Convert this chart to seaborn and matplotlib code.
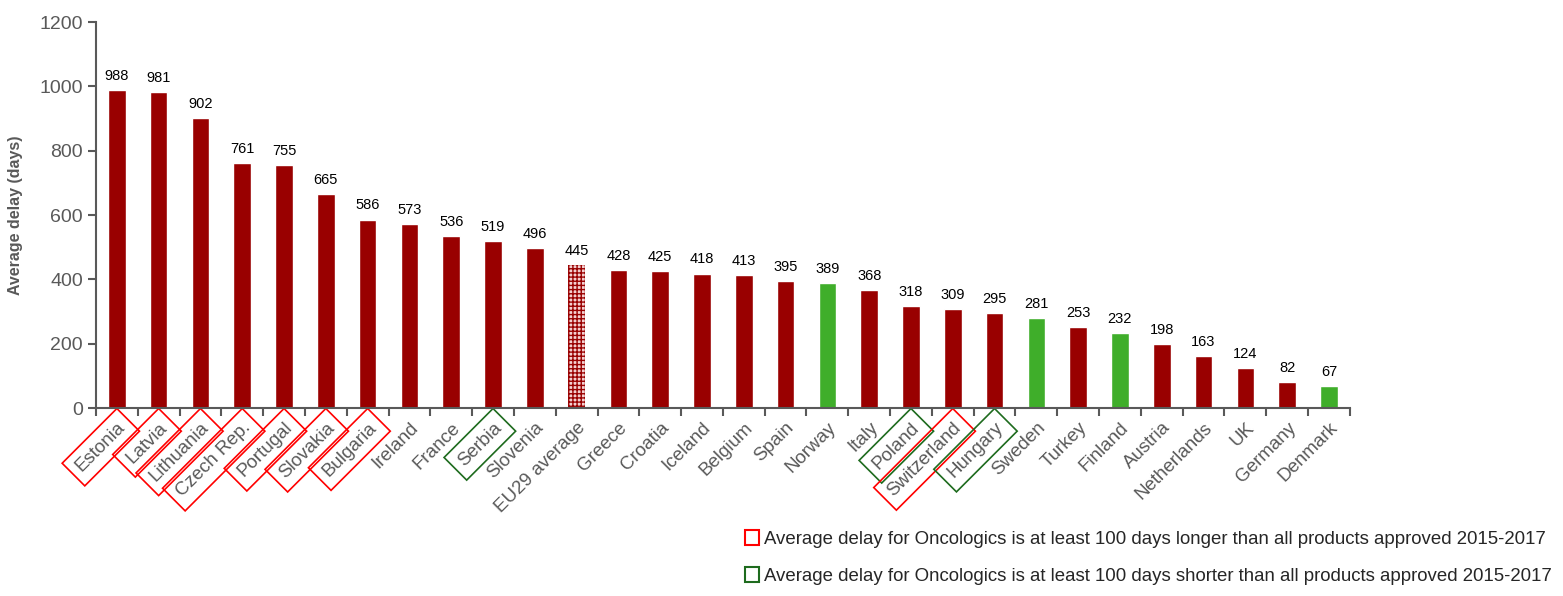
import matplotlib
matplotlib.use("Agg")
import matplotlib.pyplot as plt
import seaborn as sns
from matplotlib.patches import Patch

countries = ["Estonia", "Latvia", "Lithuania", "Czech Rep.", "Portugal", "Slovakia",
             "Bulgaria", "Ireland", "France", "Serbia", "Slovenia", "EU29 average",
             "Greece", "Croatia", "Iceland", "Belgium", "Spain", "Norway", "Italy",
             "Poland", "Switzerland", "Hungary", "Sweden", "Turkey", "Finland",
             "Austria", "Netherlands", "UK", "Germany", "Denmark"]
delay = [988, 981, 902, 761, 755, 665, 586, 573, 536, 519, 496, 445, 428, 425, 418,
         413, 395, 389, 368, 318, 309, 295, 281, 253, 232, 198, 163, 124, 82, 67]
green_bars = ["Norway", "Sweden", "Finland", "Denmark"]
longer = ["Estonia", "Latvia", "Lithuania", "Czech Rep.", "Portugal", "Slovakia",
          "Bulgaria", "Switzerland"]
shorter = ["Serbia", "Poland", "Hungary"]
average_label = "EU29 average"

DARK_RED = "#990000"
GREEN = "#3fae2a"
GREY = "#595959"

sns.set_style("white")
plt.rcParams["font.family"] = ["Liberation Sans", "DejaVu Sans"]

fig = plt.figure(figsize=(15.63, 5.96), dpi=100)
ax = fig.add_axes([0.0614, 0.3154, 0.8022, 0.6476])

palette = {c: (GREEN if c in green_bars else DARK_RED) for c in countries}
sns.barplot(x=countries, y=delay, hue=countries, palette=palette, legend=False,
            width=0.42, saturation=1, ax=ax)

# EU average bar is hatched
for patch, c in zip(ax.patches, countries):
    if c == average_label:
        patch.set_facecolor("#f4d0d0")
        patch.set_edgecolor(DARK_RED)
        patch.set_hatch("++++")
        patch.set_linewidth(0)

for i, v in enumerate(delay):
    ax.text(i, v + 22, str(v), ha="center", va="bottom", fontsize=10.5, color="black")

ax.set_xlim(-0.5, len(countries) - 0.5)
ax.set_ylim(0, 1200)
ax.set_yticks(range(0, 1201, 200))
ax.tick_params(axis="y", labelsize=14, labelcolor=GREY, color=GREY, length=6,
               direction="out", left=True, width=1.5)
ax.set_ylabel("Average delay (days)", fontsize=11.5, fontweight="bold", color=GREY,
              labelpad=12)

# ticks between categories
ax.set_xticks([i - 0.5 for i in range(len(countries) + 1)], minor=True)
ax.tick_params(axis="x", which="minor", length=6, color=GREY, width=1.5,
               bottom=True, direction="out")
ax.tick_params(axis="x", which="major", length=0, pad=8)
ax.set_xticks(range(len(countries)))
ax.set_xticklabels(countries, rotation=45, ha="right", rotation_mode="anchor",
                   fontsize=13.5, color=GREY)
for lbl in ax.get_xticklabels():
    t = lbl.get_text()
    if t in longer:
        lbl.set_bbox(dict(boxstyle="square,pad=0.4", fc="none", ec="red", lw=1.2))
    elif t in shorter:
        lbl.set_bbox(dict(boxstyle="square,pad=0.4", fc="none", ec="#1e6b1e", lw=1.2))

sns.despine(ax=ax)
for s in ["left", "bottom"]:
    ax.spines[s].set_color(GREY)
    ax.spines[s].set_linewidth(1.5)

handles = [Patch(fc="none", ec="red", lw=1.5),
           Patch(fc="none", ec="#1e6b1e", lw=1.5)]
labels = ["Average delay for Oncologics is at least 100 days longer than all products approved 2015-2017",
          "Average delay for Oncologics is at least 100 days shorter than all products approved 2015-2017"]
fig.legend(handles, labels, loc="lower right", bbox_to_anchor=(1.0, 0.0), frameon=False,
           fontsize=13.4, handlelength=0.8, handleheight=0.9, handletextpad=0.25,
           labelspacing=1.0, borderaxespad=0.2)

fig.savefig("out.png", dpi=100)
